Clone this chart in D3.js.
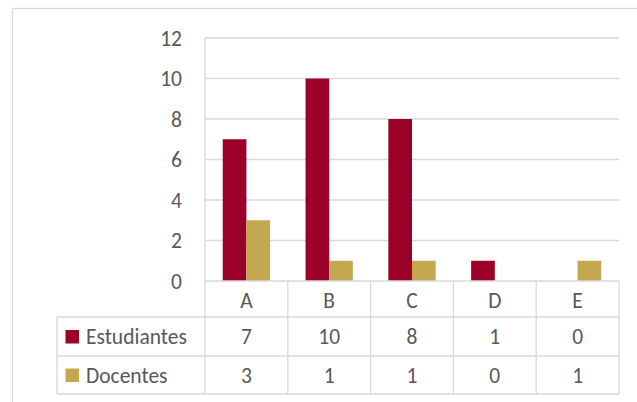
<!DOCTYPE html>
<html><head><meta charset="utf-8">
<script src="https://cdn.jsdelivr.net/npm/d3@7"></script>
<style>body{margin:0;background:#fff}svg{display:block}text{font-family:Carlito,Calibri,Lato,sans-serif;fill:#595959}</style>
</head><body><svg id="c" width="637" height="402"></svg>
<script>
const categories = ["A","B","C","D","E"];
const seriesNames = ["Estudiantes","Docentes"];
const estudiantes = [7,10,8,1,0];
const docentes = [3,1,1,0,1];
const yTicks = [0,2,4,6,8,10,12];
const colors = ["#9b0029","#c3a84f"];

const seriesValues = [estudiantes, docentes];
const svg = d3.select("#c");
const grid = "#d9d9d9";
const L = 205, R = 619, T = 38, B = 281;
const rowY = [281, 317, 356, 394];
const legendLeft = 57;
const fs = 21.5;

// outer border
svg.append("rect").attr("x",12.5).attr("y",8.5).attr("width",700).attr("height",500)
  .attr("fill","none").attr("stroke",grid).attr("stroke-width",1.3);

const y = d3.scaleLinear().domain([0,12]).range([B,T]);
const x0 = d3.scaleBand().domain(categories).range([L,R]).padding(0);
const x1 = d3.scaleBand().domain(seriesNames).range([0,x0.bandwidth()]).paddingInner(0).paddingOuter(0.75);

// gridlines
svg.append("g").selectAll("line").data(yTicks.filter(t=>t>0)).join("line")
  .attr("x1",L).attr("x2",R).attr("y1",d=>y(d)).attr("y2",d=>y(d))
  .attr("stroke",grid).attr("stroke-width",1.3);

// y labels
svg.append("g").selectAll("text").data(yTicks).join("text")
  .attr("x",182).attr("y",d=>y(d)).attr("dy","0.35em").attr("text-anchor","end")
  .attr("font-size",fs).text(d=>d);

// bars
const g = svg.append("g");
seriesNames.forEach((s,si)=>{
  g.append("g").selectAll("rect").data(categories).join("rect")
    .attr("x",c=>x0(c)+x1(s)).attr("width",x1.bandwidth())
    .attr("y",(c,i)=>y(seriesValues[si][i])).attr("height",(c,i)=>B-y(seriesValues[si][i]))
    .attr("fill",colors[si]);
});

// table lines
const tl = svg.append("g").attr("stroke",grid).attr("stroke-width",1.3);
tl.append("line").attr("x1",L).attr("x2",R).attr("y1",rowY[0]).attr("y2",rowY[0]);
[1,2,3].forEach(i=>tl.append("line").attr("x1",legendLeft).attr("x2",R).attr("y1",rowY[i]).attr("y2",rowY[i]));
tl.append("line").attr("x1",L).attr("x2",L).attr("y1",T).attr("y2",rowY[3]);
tl.append("line").attr("x1",legendLeft).attr("x2",legendLeft).attr("y1",rowY[1]).attr("y2",rowY[3]);
categories.forEach(c=>tl.append("line").attr("x1",x0(c)+x0.bandwidth()).attr("x2",x0(c)+x0.bandwidth()).attr("y1",rowY[0]).attr("y2",rowY[3]));

// category labels
svg.append("g").selectAll("text").data(categories).join("text")
  .attr("x",c=>x0(c)+x0.bandwidth()/2).attr("y",(rowY[0]+rowY[1])/2+1).attr("dy","0.35em")
  .attr("text-anchor","middle").attr("font-size",fs).text(c=>c);

// value rows
seriesNames.forEach((s,si)=>{
  const cy = (rowY[si+1]+rowY[si+2])/2;
  svg.append("g").selectAll("text").data(categories).join("text")
    .attr("x",c=>x0(c)+x0.bandwidth()/2).attr("y",cy).attr("dy","0.35em")
    .attr("text-anchor","middle").attr("font-size",fs).text((c,i)=>seriesValues[si][i]);
  svg.append("rect").attr("x",65.5).attr("y",cy-6.5).attr("width",13.5).attr("height",13.5).attr("fill",colors[si]);
  svg.append("text").attr("x",86).attr("y",cy).attr("dy","0.35em").attr("font-size",fs).text(s);
});
</script></body></html>
